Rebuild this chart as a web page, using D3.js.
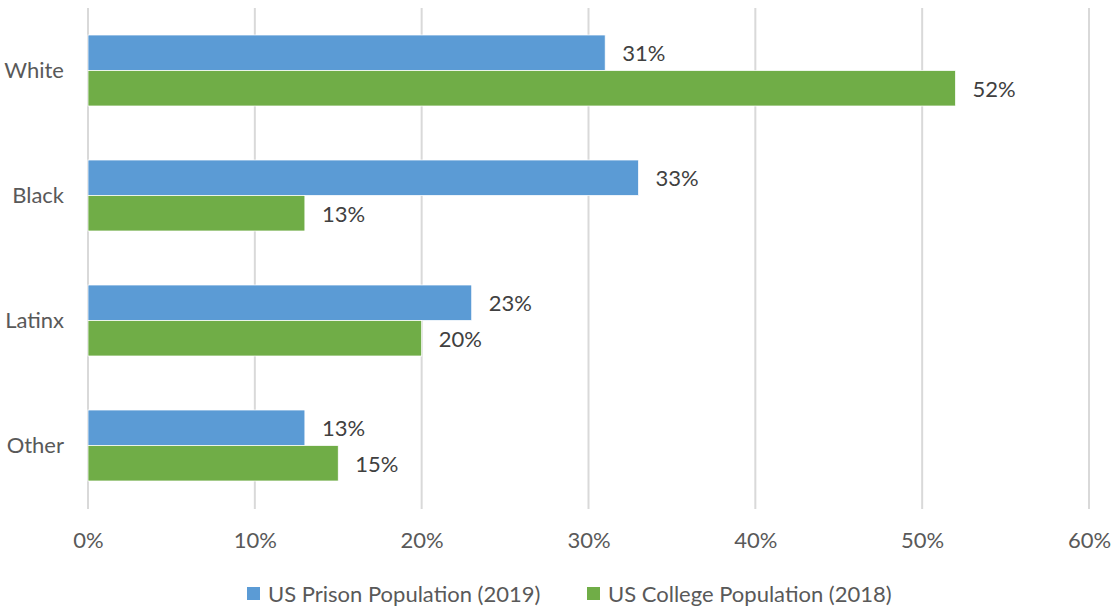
<!DOCTYPE html>
<html><head><meta charset="utf-8">
<script src="https://cdn.jsdelivr.net/npm/d3@7"></script>
<style>body{margin:0;background:#fff}svg{display:block}text{font-family:Lato,"Open Sans",sans-serif}</style>
</head><body><svg id="c" width="1113" height="608"></svg>
<script>
const categories = ["White","Black","Latinx","Other"];
const seriesNames = ["US Prison Population (2019)","US College Population (2018)"];
const prison = [31,33,23,13];
const college = [52,13,20,15];
const xTicks = [0,10,20,30,40,50,60];
const colors = ["#5B9BD5","#70AD47"];

const svg = d3.select("#c");
const fs = 22;
const x = d3.scaleLinear().domain([0,60]).range([88,1089]);
const y = d3.scaleBand().domain(categories).range([8,508]).paddingInner(0.432).paddingOuter(0.216);
const ys = d3.scaleBand().domain([0,1]).range([0,y.bandwidth()]);

// gridlines
svg.append("g").selectAll("line").data(xTicks).join("line")
  .attr("x1",d=>x(d)).attr("x2",d=>x(d)).attr("y1",8).attr("y2",509)
  .attr("stroke","#D9D9D9").attr("stroke-width",2);

// x axis labels
const xa = svg.append("g").attr("transform","translate(0,509)")
  .call(d3.axisBottom(x).tickValues(xTicks).tickFormat(d=>d+"%").tickSize(0).tickPadding(0));
xa.select(".domain").remove();
xa.selectAll("text").attr("y",null).attr("dy",null).attr("transform","translate(0,39)")
  .attr("font-size",fs).attr("fill","#595959").attr("font-family","Lato,'Open Sans',sans-serif");

// y axis labels
const ya = svg.append("g").attr("transform","translate(64,0)")
  .call(d3.axisLeft(y).tickSize(0).tickPadding(0));
ya.select(".domain").remove();
ya.selectAll("text").attr("x",0).attr("dy","0.35em").attr("font-size",fs).attr("fill","#595959")
  .attr("font-family","Lato,'Open Sans',sans-serif");

const rows = [];
categories.forEach((c,i)=>{ rows.push({c,s:0,v:prison[i]}); rows.push({c,s:1,v:college[i]}); });

svg.append("g").selectAll("rect").data(rows).join("rect")
  .attr("x",x(0)).attr("y",d=>y(d.c)+ys(d.s)).attr("width",d=>x(d.v)-x(0)).attr("height",ys.bandwidth())
  .attr("fill",d=>colors[d.s]).attr("stroke","#fff").attr("stroke-width",0.75);

svg.append("g").selectAll("text").data(rows).join("text")
  .attr("x",d=>x(d.v)+17).attr("y",d=>y(d.c)+ys(d.s)+ys.bandwidth()/2+1).attr("dy","0.35em")
  .attr("font-size",fs).attr("fill","#404040").text(d=>d.v+"%");

// legend
const leg = [{x:247,name:seriesNames[0],c:colors[0]},{x:587,name:seriesNames[1],c:colors[1]}];
const lg = svg.append("g").selectAll("g").data(leg).join("g").attr("transform",d=>`translate(${d.x},587)`);
lg.append("rect").attr("width",13).attr("height",13).attr("fill",d=>d.c);
lg.append("text").attr("x",21).attr("y",7).attr("dy","0.35em").attr("font-size",fs).attr("fill","#595959").text(d=>d.name);
</script></body></html>
